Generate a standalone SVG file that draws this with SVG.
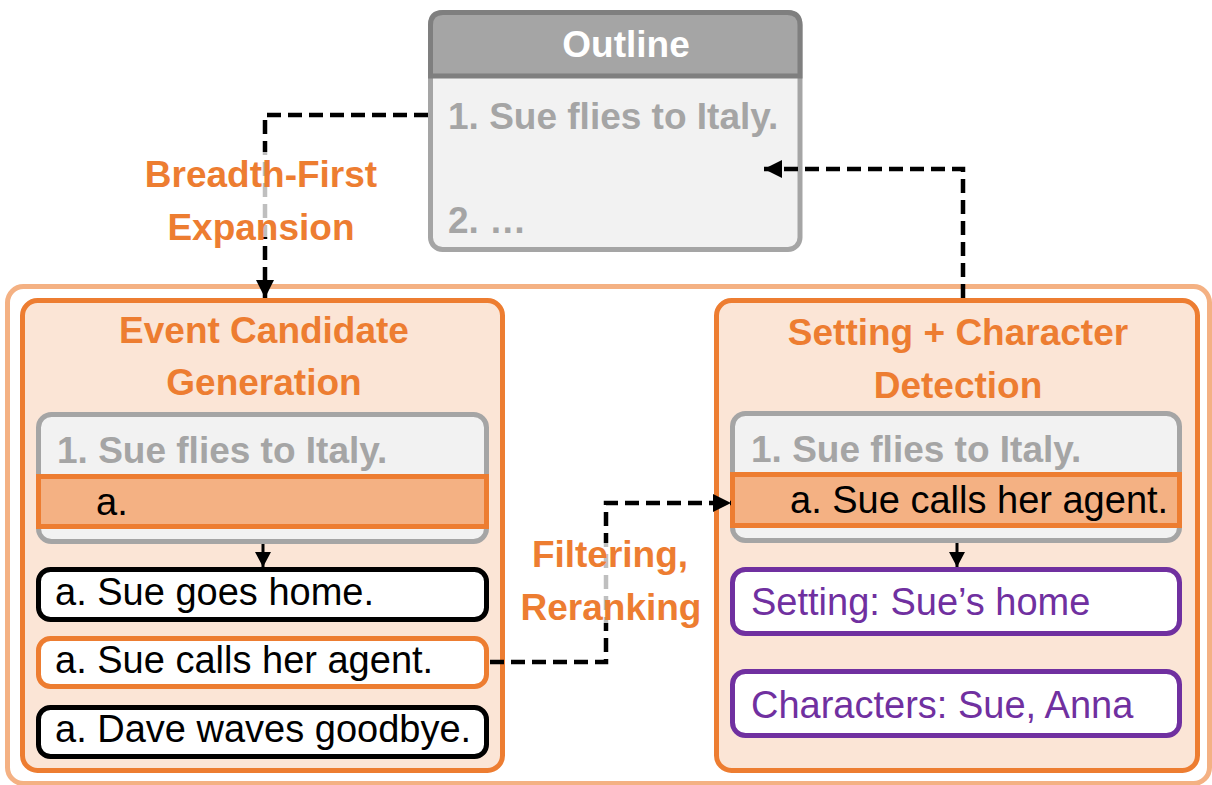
<svg xmlns="http://www.w3.org/2000/svg" width="1212" height="785" viewBox="0 0 1212 785">
<style>
text{font-family:"Liberation Sans",Arial,sans-serif}
.b{font-weight:bold;font-size:37px}
.r{font-size:38px}
.or{fill:#ED7D31}
.gr{fill:#A5A5A5}
.pu{fill:#7030A0}
.k{fill:#000}
.panel{fill:#FBE5D6;stroke:#ED7D31;stroke-width:5}
.inner{fill:#F2F2F2;stroke:#A5A5A5;stroke-width:5}
.band{fill:#F4B183;stroke:#ED7D31;stroke-width:5}
.cand{fill:#fff;stroke:#000;stroke-width:5}
.candO{fill:#fff;stroke:#ED7D31;stroke-width:5}
.pbox{fill:#fff;stroke:#7030A0;stroke-width:5}
.dash{fill:none;stroke:#000;stroke-width:4.5;stroke-dasharray:14 7}
.solid{fill:none;stroke:#000;stroke-width:3}
</style>
<defs>
<marker id="arr" markerUnits="userSpaceOnUse" markerWidth="18" markerHeight="18" refX="18" refY="9" orient="auto">
<path d="M0,0 L18,9 L0,18 Z" fill="#000"/>
</marker>
<marker id="arrS" markerUnits="userSpaceOnUse" markerWidth="15" markerHeight="16" refX="15" refY="8" orient="auto">
<path d="M0,0 L15,8 L0,16 Z" fill="#000"/>
</marker>
</defs>
<rect width="1212" height="785" fill="#fff"/>
<rect id="frame" x="7.5" y="286.5" width="1202" height="497" rx="16" fill="none" stroke="#F4B183" stroke-width="5"/>

<g id="outline">
<rect x="430.5" y="12.5" width="369.5" height="237" rx="12" class="inner"/>
<path d="M430.5,76 V25 Q430.5,12.5 443,12.5 H787.5 Q800,12.5 800,25 V76 Z" fill="#A5A5A5" stroke="#7F7F7F" stroke-width="5"/>
<text x="626" y="57" class="b" fill="#fff" text-anchor="middle">Outline</text>
<text x="448" y="129" class="b gr">1. Sue flies to Italy.</text>
<text x="448" y="233" class="b gr">2. …</text>
</g>

<g id="event-generation">
<rect x="22.5" y="300.5" width="480" height="470" rx="15" class="panel"/>
<text x="264" y="343" class="b or" text-anchor="middle">Event Candidate</text>
<text x="264" y="395" class="b or" text-anchor="middle">Generation</text>
<rect x="38.5" y="414.5" width="448" height="127" rx="13" class="inner"/>
<text x="57" y="463" class="b gr">1. Sue flies to Italy.</text>
<rect x="38.5" y="476.5" width="448" height="50" class="band"/>
<text x="96" y="515" class="r k">a.</text>
</g>
<g id="cand1">
<rect x="38.5" y="569.5" width="448" height="50" rx="12" class="cand"/>
<text x="55" y="605" class="r k">a. Sue goes home.</text>
</g>
<g id="cand2">
<rect x="38.5" y="638.5" width="448" height="48" rx="12" class="candO"/>
<text x="55" y="673" class="r k">a. Sue calls her agent.</text>
</g>
<g id="cand3">
<rect x="38.5" y="707.5" width="448" height="49" rx="12" class="cand"/>
<text x="55" y="742" class="r k">a. Dave waves goodbye.</text>
</g>

<g id="setting-detection">
<rect x="716.5" y="300.5" width="481" height="470" rx="15" class="panel"/>
<text x="958" y="345" class="b or" text-anchor="middle">Setting + Character</text>
<text x="958" y="398" class="b or" text-anchor="middle">Detection</text>
<rect x="732.5" y="413.5" width="447" height="127" rx="13" class="inner"/>
<text x="751" y="462" class="b gr">1. Sue flies to Italy.</text>
<rect x="732.5" y="474.5" width="447" height="51" class="band"/>
<text x="790" y="513" class="r k">a. Sue calls her agent.</text>
</g>
<g id="setting">
<rect x="732.5" y="569.5" width="447" height="64" rx="13" class="pbox"/>
<text x="751" y="615" class="r pu">Setting: Sue’s home</text>
</g>
<g id="characters">
<rect x="732.5" y="671.5" width="447" height="64" rx="13" class="pbox"/>
<text x="751" y="718" class="r pu">Characters: Sue, Anna</text>
</g>

<g id="connectors">
<path d="M428,115 H265 V298" class="dash" marker-end="url(#arr)"/>
<path d="M490,662 H606 V503 H731" class="dash" marker-end="url(#arr)"/>
<path d="M963,298 V169 H764" class="dash" marker-end="url(#arr)"/>
<path d="M263,544 V567" class="solid" marker-end="url(#arrS)"/>
<path d="M957,543 V567" class="solid" marker-end="url(#arrS)"/>
</g>

<g id="labels">
<rect x="140" y="152" width="250" height="85" fill="#fff" fill-opacity="0.75"/>
<text x="261" y="187" class="b or" text-anchor="middle">Breadth-First</text>
<text x="261" y="240" class="b or" text-anchor="middle">Expansion</text>
<rect x="515" y="543" width="190" height="80" fill="#fff" fill-opacity="0.75"/>
<text x="610" y="567" class="b or" text-anchor="middle">Filtering,</text>
<text x="611" y="620" class="b or" text-anchor="middle">Reranking</text>
</g>
</svg>
